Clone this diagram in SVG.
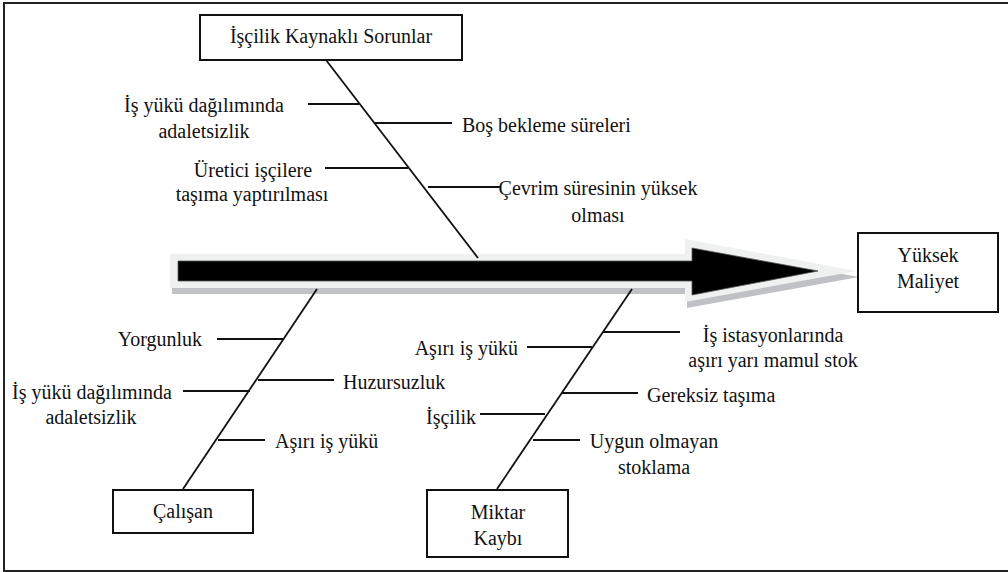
<svg xmlns="http://www.w3.org/2000/svg" width="1008" height="572" viewBox="0 0 1008 572" font-family="'Liberation Serif', 'DejaVu Serif', serif">
<style>
text{font-family:'Liberation Serif','DejaVu Serif',serif;font-size:20px;fill:#111;}
.box{fill:#fff;stroke:#111;stroke-width:2;}
.bone{stroke:#111;stroke-width:1.8;fill:none;}
.rib{stroke:#111;stroke-width:2;fill:none;}
.m{text-anchor:middle;}
.e{text-anchor:end;}
</style>
<rect x="0" y="0" width="1008" height="572" fill="#fff"/>
<rect x="4" y="3" width="1012" height="568" fill="none" stroke="#222" stroke-width="2"/>

<g id="main-arrow">
  <polygon points="172,260 687,260 687,245 859,277 687,308 687,294 172,294" fill="#bfc1c4"/>
  <polygon points="170,254 685,254 685,239 857,271 685,302 685,288 170,288" fill="#eff0f0"/>
  <polygon points="178,261 692,261 692,248 818,271 692,295 692,281 178,281" fill="#000" stroke="#555" stroke-width="0.8"/>
</g>

<g id="connectors">
  <line class="bone" x1="326" y1="60" x2="478" y2="258"/>
  <line class="rib" x1="308" y1="104" x2="359" y2="104"/>
  <line class="rib" x1="375" y1="123" x2="452" y2="123"/>
  <line class="rib" x1="325" y1="168" x2="408" y2="168"/>
  <line class="rib" x1="428" y1="187" x2="500" y2="187"/>

  <line class="bone" x1="317" y1="289" x2="183" y2="489"/>
  <line class="rib" x1="217" y1="339" x2="283" y2="339"/>
  <line class="rib" x1="258" y1="380" x2="334" y2="380"/>
  <line class="rib" x1="183" y1="391" x2="250" y2="391"/>
  <line class="rib" x1="218" y1="440" x2="265" y2="440"/>

  <line class="bone" x1="632" y1="289" x2="497" y2="489"/>
  <line class="rib" x1="603" y1="332" x2="680" y2="332"/>
  <line class="rib" x1="527" y1="347" x2="592" y2="347"/>
  <line class="rib" x1="562" y1="393" x2="638" y2="393"/>
  <line class="rib" x1="480" y1="414" x2="545" y2="414"/>
  <line class="rib" x1="533" y1="440" x2="580" y2="440"/>
</g>

<g id="node-iscilik">
  <rect class="box" x="200" y="15" width="262" height="45"/>
  <text class="m" x="331" y="43">İşçilik Kaynaklı Sorunlar</text>
</g>
<g id="node-yuksek-maliyet">
  <rect class="box" x="858" y="233" width="140" height="79"/>
  <text class="m" x="928" y="262">Yüksek</text>
  <text class="m" x="928" y="288">Maliyet</text>
</g>
<g id="node-calisan">
  <rect class="box" x="113" y="490" width="140" height="43"/>
  <text class="m" x="183" y="518">Çalışan</text>
</g>
<g id="node-miktar-kaybi">
  <rect class="box" x="427" y="490" width="141" height="67"/>
  <text class="m" x="498" y="519">Miktar</text>
  <text class="m" x="498" y="545">Kaybı</text>
</g>

<g id="labels-top">
  <text class="m" x="204" y="112">İş yükü dağılımında</text>
  <text class="m" x="204" y="138">adaletsizlik</text>
  <text x="462" y="132">Boş bekleme süreleri</text>
  <text class="m" x="253" y="177">Üretici işçilere</text>
  <text class="m" x="252" y="201">taşıma yaptırılması</text>
  <text class="m" x="598" y="195">Çevrim süresinin yüksek</text>
  <text class="m" x="598" y="222">olması</text>
</g>
<g id="labels-calisan">
  <text class="e" x="202" y="346">Yorgunluk</text>
  <text x="343" y="389">Huzursuzluk</text>
  <text class="m" x="92" y="399">İş yükü dağılımında</text>
  <text class="m" x="91" y="424">adaletsizlik</text>
  <text x="275" y="448">Aşırı iş yükü</text>
</g>
<g id="labels-miktar">
  <text class="m" x="773" y="342">İş istasyonlarında</text>
  <text class="m" x="773" y="367">aşırı yarı mamul stok</text>
  <text class="e" x="518" y="355">Aşırı iş yükü</text>
  <text x="647" y="402">Gereksiz taşıma</text>
  <text class="e" x="476" y="424">İşçilik</text>
  <text class="m" x="654" y="448">Uygun olmayan</text>
  <text class="m" x="654" y="474">stoklama</text>
</g>
</svg>
